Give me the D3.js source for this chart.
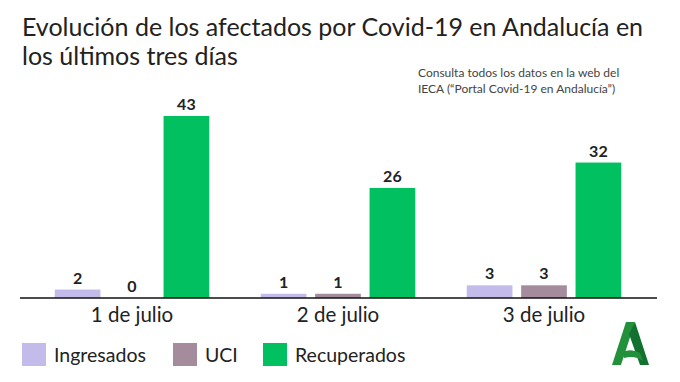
<!DOCTYPE html>
<html><head><meta charset="utf-8">
<script src="https://cdn.jsdelivr.net/npm/d3@7"></script>
<style>body{margin:0;background:#fff}svg{display:block}text{font-family:Lato,"Open Sans",sans-serif}</style>
</head><body><svg id="c" width="680" height="382"></svg>
<script>
const categories = ["1 de julio", "2 de julio", "3 de julio"];
const seriesNames = ["Ingresados", "UCI", "Recuperados"];
const ingresados = [2, 1, 3];
const uci = [0, 1, 3];
const recuperados = [43, 26, 32];
const colors = ["#c3bbea", "#a58c9c", "#00c05f"];
const titleLines = ["Evolución de los afectados por Covid-19 en Andalucía en", "los últimos tres días"];
const noteLines = ["Consulta todos los datos en la web del", "IECA (“Portal Covid-19 en Andalucía”)"];

const series = [ingresados, uci, recuperados];
const svg = d3.select("#c");

const x0 = d3.scaleBand().domain(categories).range([29, 647]).paddingInner(0.25).paddingOuter(0.125);
const x1 = d3.scaleBand().domain(seriesNames).range([0, x0.bandwidth()]).paddingInner(0.16);
const y = d3.scaleLinear().domain([0, 43]).range([298, 116]);

// title
svg.append("g").selectAll("text").data(titleLines).join("text")
  .attr("x", 22).attr("y", (d, i) => 36 + i * 29)
  .attr("font-size", 25).attr("fill", "#222").text(d => d);

svg.append("g").selectAll("text").data(noteLines).join("text")
  .attr("x", 418).attr("y", (d, i) => 77 + i * 16)
  .attr("font-size", 12).attr("fill", "#444").text(d => d);

// bars
const groups = svg.append("g").selectAll("g").data(categories).join("g")
  .attr("transform", d => `translate(${x0(d)},0)`);
groups.selectAll("rect").data((c, ci) => seriesNames.map((s, si) => ({s, si, v: series[si][ci]})))
  .join("rect")
  .attr("x", d => x1(d.s)).attr("width", x1.bandwidth())
  .attr("y", d => y(d.v)).attr("height", d => y(0) - y(d.v))
  .attr("fill", d => colors[d.si]);
groups.selectAll("text.v").data((c, ci) => seriesNames.map((s, si) => ({s, si, v: series[si][ci]})))
  .join("text").attr("class", "v")
  .attr("x", d => x1(d.s) + x1.bandwidth() / 2).attr("y", d => y(d.v) - 6)
  .attr("text-anchor", "middle").attr("font-size", 16).attr("font-weight", "bold").attr("fill", "#222")
  .text(d => d.v);

// axis
const ax = svg.append("g").attr("transform", "translate(0,298)")
  .call(d3.axisBottom(x0).tickSize(0).tickPadding(9));
ax.select(".domain").remove();
ax.selectAll("text").attr("font-size", 20.5).attr("fill", "#222").attr("font-family", "Lato,sans-serif");
svg.append("line").attr("x1", 20).attr("x2", 657).attr("y1", 298).attr("y2", 298)
  .attr("stroke", "#111").attr("stroke-width", 1.5);

// legend
const legX = [22, 173, 263];
const leg = svg.append("g").selectAll("g").data(seriesNames).join("g")
  .attr("transform", (d, i) => `translate(${legX[i]},343)`);
leg.append("rect").attr("width", 24).attr("height", 23).attr("fill", (d, i) => colors[i]);
leg.append("text").attr("x", 32).attr("y", 19).attr("font-size", 19.5).attr("fill", "#222").text(d => d);

// logo
const logo = svg.append("g").attr("transform", "translate(612,322)");
logo.append("path").attr("d", "M14 0 L23 0 L9 43 L0 43 Z").attr("fill", "#23913b");
logo.append("path").attr("d", "M23 0 L37 43 L28 43 L17 12 Z").attr("fill", "#13712f");
logo.append("path").attr("d", "M10 30 Q20 26 28 31 L31 39 Q23 33 12 36 Z").attr("fill", "#23913b");
</script></body></html>
